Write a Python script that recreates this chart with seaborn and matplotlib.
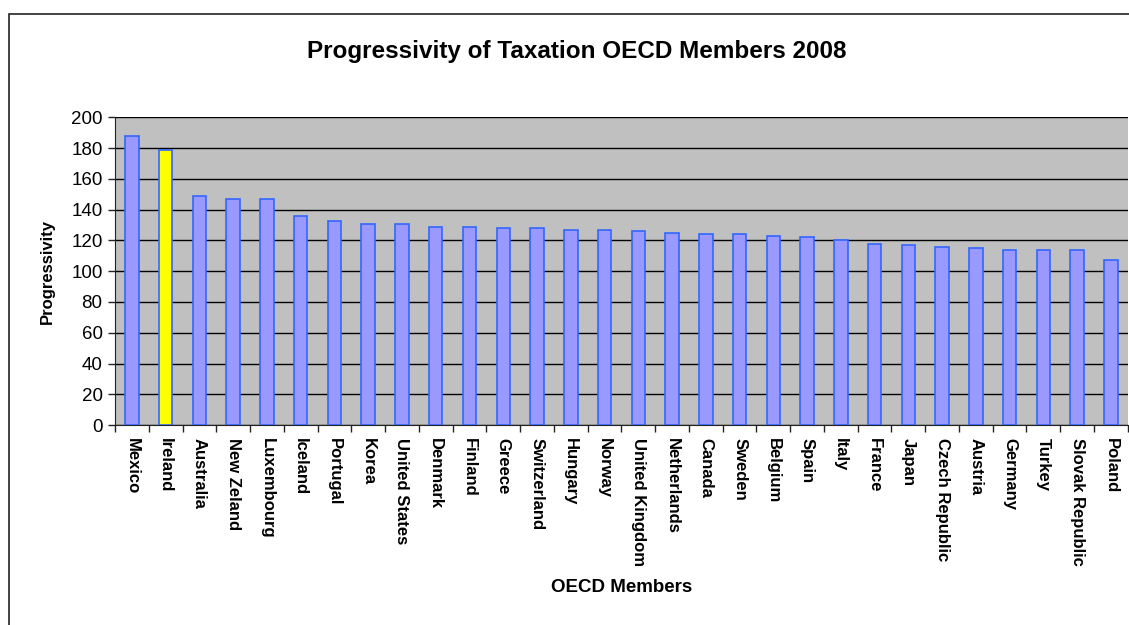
import numpy as np
import pandas as pd
import seaborn as sns
import matplotlib.pyplot as plt
from matplotlib.patches import Rectangle

countries = ["Mexico", "Ireland", "Australia", "New Zeland", "Luxembourg", "Iceland",
             "Portugal", "Korea", "United States", "Denmark", "Finland", "Greece",
             "Switzerland", "Hungary", "Norway", "United Kingdom", "Netherlands",
             "Canada", "Sweden", "Belgium", "Spain", "Italy", "France", "Japan",
             "Czech Republic", "Austria", "Germany", "Turkey", "Slovak Republic", "Poland"]
progressivity = [188, 179, 149, 147, 147, 136, 133, 131, 131, 129, 129, 128, 128, 127,
                 127, 126, 125, 124, 124, 123, 122, 120, 118, 117, 116, 115, 114, 114,
                 114, 107]
highlight = "Ireland"

df = pd.DataFrame({"country": countries, "value": progressivity})
palette = {c: ("#FFFF00" if c == highlight else "#9999FF") for c in countries}

sns.set_style("white")
plt.rcParams["font.family"] = ["Liberation Sans", "DejaVu Sans"]
plt.rcParams["text.color"] = "black"
plt.rcParams["axes.labelcolor"] = "black"
plt.rcParams["xtick.color"] = "black"
plt.rcParams["ytick.color"] = "black"

fig = plt.figure(figsize=(11.29, 6.25), dpi=100)
ax = fig.add_axes([0.1019, 0.32, 0.897, 0.492])
ax.set_facecolor("#C0C0C0")

sns.barplot(data=df, x="country", y="value", hue="country", palette=palette, saturation=1,
            legend=False, width=0.4, edgecolor="#3366FF", linewidth=1.2, ax=ax, zorder=3)

ax.set_ylim(0, 200)
ax.set_xlim(-0.5, len(countries) - 0.5)
ax.set_yticks(range(0, 201, 20))
ax.yaxis.grid(True, color="black", linewidth=1)
ax.set_axisbelow(True)
for s in ["top", "right"]:
    ax.spines[s].set_visible(False)
ax.spines["left"].set_color("#222222")
ax.spines["bottom"].set_color("#222222")

ax.set_xticks(range(len(countries)))
ax.set_xticklabels(countries, rotation=-90, fontsize=12, fontweight="bold", va="top")
ax.set_xticks(np.arange(-0.5, len(countries), 1), minor=True)
ax.tick_params(axis="x", which="major", length=0, pad=9)
ax.tick_params(axis="x", which="minor", length=5, width=1, color="#222222", direction="out", bottom=True)
ax.tick_params(axis="y", length=5, width=1, color="#222222", direction="out", left=True,
               labelsize=13.5, pad=4)

ax.set_xlabel("OECD Members", fontsize=13.5, fontweight="bold", labelpad=10)
ax.set_ylabel("Progressivity", fontsize=12, fontweight="bold", labelpad=12)
fig.text(0.511, 0.918, "Progressivity of Taxation OECD Members 2008", ha="center", va="center",
         fontsize=17.5, fontweight="bold")

fig.patches.append(Rectangle((9 / 1129, -0.01), 1.1, 1 - 14 / 625 + 0.01, transform=fig.transFigure,
                             fill=False, edgecolor="#222222", linewidth=1.2))

fig.savefig("out.png", dpi=100)
